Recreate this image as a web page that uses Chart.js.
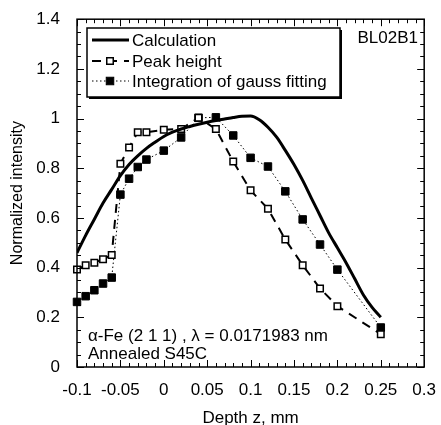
<!DOCTYPE html>
<html>
<head>
<meta charset="utf-8">
<script src="https://cdn.jsdelivr.net/npm/chart.js@4.4.1/dist/chart.umd.min.js"></script>
<style>
  html, body { margin: 0; padding: 0; background: #fff; }
</style>
</head>
<body>
<canvas id="chart" width="441" height="425"></canvas>
<script>
// calculated profile
const calcDepth = [-0.1, -0.09, -0.08, -0.07, -0.06, -0.05, -0.04, -0.03, -0.02, -0.01,
  0, 0.01, 0.02, 0.03, 0.04, 0.05, 0.06, 0.07, 0.08, 0.09, 0.1, 0.11, 0.12, 0.13,
  0.14, 0.15, 0.16, 0.17, 0.18, 0.19, 0.2, 0.21, 0.22, 0.23, 0.24, 0.25];
const calcIntensity = [0.46, 0.53, 0.595, 0.66, 0.715, 0.77, 0.815, 0.85, 0.88, 0.905,
  0.928, 0.945, 0.958, 0.968, 0.977, 0.985, 0.992, 0.998, 1.004, 1.009, 1.01, 0.995, 0.965, 0.925,
  0.872, 0.815, 0.751, 0.68, 0.61, 0.54, 0.48, 0.42, 0.355, 0.29, 0.24, 0.2];

// measured points
const sampleDepth = [-0.1, -0.09, -0.08, -0.07, -0.06, -0.05, -0.04, -0.03, -0.02, 0,
  0.02, 0.04, 0.06, 0.08, 0.1, 0.12, 0.14, 0.16, 0.18, 0.2, 0.25];
const peakHeight = [0.392, 0.41, 0.42, 0.434, 0.451, 0.818, 0.884, 0.945, 0.945, 0.955,
  0.958, 1.003, 0.958, 0.827, 0.711, 0.637, 0.513, 0.41, 0.316, 0.245, 0.132];
const gaussIntegration = [0.262, 0.285, 0.309, 0.336, 0.36, 0.694, 0.758, 0.805, 0.835, 0.871,
  0.924, 1.003, 1.005, 0.932, 0.842, 0.807, 0.707, 0.594, 0.493, 0.392, 0.159];

const seriesNames = ['Calculation', 'Peak height', 'Integration of gauss fitting'];
const xTicks = [-0.1, -0.05, 0, 0.05, 0.1, 0.15, 0.2, 0.25, 0.3];
const yTicks = [0, 0.2, 0.4, 0.6, 0.8, 1, 1.2, 1.4];
const xMinorStep = 0.01;
const yMinorStep = 0.05;
const stationLabel = 'BL02B1';
const noteLines = ['\u03b1-Fe (2 1 1) , \u03bb = 0.0171983 nm', 'Annealed S45C'];

const FONT = '"Liberation Sans", Arial, Helvetica, sans-serif';
const fmt = v => String(Number(Number(v).toFixed(2)));
const pts = (xs, ys) => xs.map((x, i) => ({ x, y: ys[i] }));

// frame, inward ticks, legend box and notes
const decorations = {
  id: 'decorations',
  afterDatasetsDraw(chart) {
    const { ctx, chartArea: a, scales: { x, y } } = chart;
    ctx.save();
    ctx.strokeStyle = '#000';
    ctx.lineWidth = 1.5;
    ctx.strokeRect(a.left, a.top, a.right - a.left, a.bottom - a.top);

    ctx.lineWidth = 1;
    ctx.beginPath();
    const xMin = x.min, xMax = x.max;
    for (let i = 0; xMin + i * xMinorStep <= xMax + 1e-9; i++) {
      const v = xMin + i * xMinorStep;
      const px = Math.round(x.getPixelForValue(v)) + 0.5;
      const major = xTicks.some(t => Math.abs(t - v) < 1e-6);
      const len = major ? 7 : 4;
      ctx.moveTo(px, a.bottom); ctx.lineTo(px, a.bottom - len);
      ctx.moveTo(px, a.top); ctx.lineTo(px, a.top + len);
    }
    for (let i = 0; y.min + i * yMinorStep <= y.max + 1e-9; i++) {
      const v = y.min + i * yMinorStep;
      const py = Math.round(y.getPixelForValue(v)) + 0.5;
      const major = yTicks.some(t => Math.abs(t - v) < 1e-6);
      const len = major ? 7 : 4;
      ctx.moveTo(a.left, py); ctx.lineTo(a.left + len, py);
      ctx.moveTo(a.right, py); ctx.lineTo(a.right - len, py);
    }
    ctx.stroke();

    // legend box with drop shadow
    const bx = 87, by = 28, bw = 253, bh = 69;
    ctx.fillStyle = '#000';
    ctx.fillRect(bx + 2, by + 2, bw, bh);
    ctx.fillStyle = '#fff';
    ctx.fillRect(bx, by, bw, bh);
    ctx.lineWidth = 1.5;
    ctx.strokeRect(bx, by, bw, bh);

    const sets = chart.data.datasets;
    const rows = [40, 61, 81];
    ctx.font = '17px ' + FONT;
    ctx.textBaseline = 'middle';
    ctx.textAlign = 'left';
    sets.forEach((ds, i) => {
      const ly = rows[i];
      ctx.save();
      ctx.strokeStyle = ds.borderColor;
      ctx.lineWidth = ds.borderWidth;
      ctx.setLineDash(ds.borderDash || []);
      ctx.beginPath();
      ctx.moveTo(92, ly); ctx.lineTo(129, ly);
      ctx.stroke();
      ctx.restore();
      if (ds.pointRadius > 0) {
        const s = ds.pointRadius * Math.SQRT1_2;
        ctx.fillStyle = ds.pointBackgroundColor;
        ctx.fillRect(110 - s, ly - s, 2 * s, 2 * s);
        ctx.lineWidth = ds.pointBorderWidth;
        ctx.strokeStyle = '#000';
        ctx.strokeRect(110 - s, ly - s, 2 * s, 2 * s);
      }
      ctx.fillStyle = '#000';
      ctx.fillText(ds.label, 132, ly + 1);
    });

    ctx.textAlign = 'right';
    ctx.fillText(stationLabel, 418, 38);
    ctx.textAlign = 'left';
    ctx.fillText(noteLines[0], 88, 336);
    ctx.fillText(noteLines[1], 88, 354);
    ctx.restore();
  }
};

new Chart(document.getElementById('chart'), {
  type: 'scatter',
  data: {
    datasets: [
      {
        label: seriesNames[0],
        data: pts(calcDepth, calcIntensity),
        showLine: true,
        borderColor: '#000',
        borderWidth: 3,
        pointRadius: 0,
        cubicInterpolationMode: 'monotone'
      },
      {
        label: seriesNames[1],
        data: pts(sampleDepth, peakHeight),
        showLine: true,
        borderColor: '#000',
        borderWidth: 2,
        borderDash: [9, 7],
        pointStyle: 'rect',
        pointRadius: 4.6,
        pointBackgroundColor: '#fff',
        pointBorderColor: '#000',
        pointBorderWidth: 1.5,
        clip: false
      },
      {
        label: seriesNames[2],
        data: pts(sampleDepth, gaussIntegration),
        showLine: true,
        borderColor: '#000',
        borderWidth: 1,
        borderDash: [1.5, 2.5],
        pointStyle: 'rect',
        pointRadius: 5.3,
        pointBackgroundColor: '#000',
        pointBorderColor: '#000',
        pointBorderWidth: 1,
        clip: false
      }
    ]
  },
  options: {
    responsive: false,
    animation: false,
    layout: { padding: { top: 17, right: 16, left: 0, bottom: 0 } },
    plugins: { legend: { display: false }, tooltip: { enabled: false } },
    scales: {
      x: {
        type: 'linear',
        min: -0.1,
        max: 0.3,
        afterFit(s) { s.height = 58; },
        afterBuildTicks(s) { s.ticks = xTicks.map(value => ({ value })); },
        grid: { display: false },
        border: { display: false },
        ticks: {
          callback: v => fmt(v),
          color: '#000',
          font: { size: 17, family: FONT },
          padding: 5,
          maxRotation: 0,
          autoSkip: false
        },
        title: {
          display: true,
          text: 'Depth z, mm',
          color: '#000',
          font: { size: 17, family: FONT },
          padding: { top: 0, bottom: -4 }
        }
      },
      y: {
        type: 'linear',
        min: 0,
        max: 1.4,
        afterFit(s) { s.width = 77; },
        afterBuildTicks(s) { s.ticks = yTicks.map(value => ({ value })); },
        grid: { display: false },
        border: { display: false },
        ticks: {
          callback: v => fmt(v),
          color: '#000',
          font: { size: 17, family: FONT },
          padding: 9,
          autoSkip: false
        },
        title: {
          display: true,
          text: 'Normalized intensity',
          color: '#000',
          font: { size: 16, family: FONT },
          padding: { top: 8, bottom: 0 }
        }
      }
    }
  },
  plugins: [decorations]
});
</script>
</body>
</html>
